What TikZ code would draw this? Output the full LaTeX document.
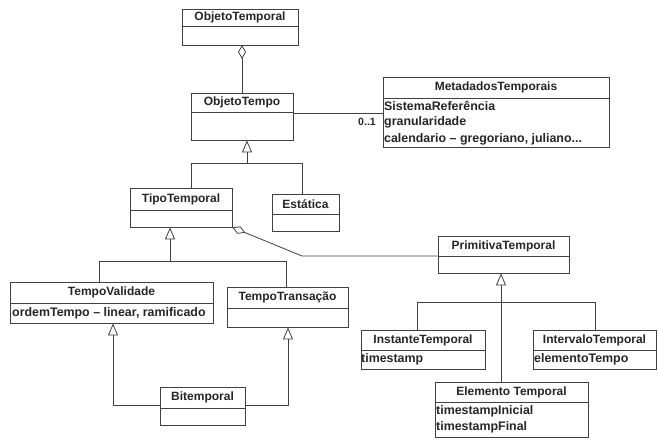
\documentclass[tikz,border=0pt]{standalone}
\usepackage{fontspec}
\setmainfont{Liberation Sans}
\usetikzlibrary{arrows.meta,fit}

\tikzset{
  umlline/.style={draw=black!75, line width=0.8pt},
  classframe/.style={draw=black!75, line width=0.8pt, inner sep=0pt},
  classtitle/.style={font=\fontsize{12}{14}\selectfont\bfseries, inner sep=0pt, text=black!85},
  classattr/.style={font=\fontsize{12.4}{14}\selectfont\bfseries, inner sep=0pt, anchor=west, text=black!85},
  multlabel/.style={font=\fontsize{10.5}{12}\selectfont\bfseries, inner sep=0pt, text=black!85},
  inherit/.style={umlline, -{Triangle[open, length=12pt, width=10pt, line width=0.8pt]}},
  aggr/.style={umlline, {Diamond[open, length=14pt, width=8pt, line width=0.8pt]}-},
}

% \umlclass{name}{left}{top}{right}{header bottom}{bottom}{title}
\newcommand{\umlclass}[7]{%
  \node[classframe, fit={(#2,#3) (#4,#6)}] (#1) {};
  \draw[umlline] (#2,#5) -- (#4,#5);
  \node[classtitle] (#1-title) at ({(#2+#4)/2},{(#3+#5)/2}) {#7};
}

\begin{document}
\begin{tikzpicture}[x=1pt,y=-1pt]
  \useasboundingbox[fill=white] (0,0) rectangle (658,440);

  % classes
  \umlclass{objtemporal}{182}{9}{298}{26}{45}{ObjetoTemporal}
  \umlclass{objtempo}{191}{93}{293}{112}{140}{ObjetoTempo}
  \umlclass{meta}{383}{77}{609}{98}{147}{MetadadosTemporais}
  \node[classattr] (meta-a1) at (384,106) {SistemaReferência};
  \node[classattr] (meta-a2) at (384,122.5) {granularidade};
  \node[classattr] (meta-a3) at (384,139) {calendario – gregoriano, juliano...};

  \umlclass{tipo}{130}{188}{232}{210}{227}{TipoTemporal}
  \umlclass{estatica}{272}{194}{339}{214}{231}{Estática}

  \umlclass{validade}{10}{282}{213}{303}{323}{TempoValidade}
  \node[classattr] (validade-a1) at (12,313) {ordemTempo – linear, ramificado};
  \umlclass{transacao}{227}{287}{348}{308}{327}{TempoTransação}

  \umlclass{primitiva}{438}{236}{569}{256}{273}{PrimitivaTemporal}
  \umlclass{instante}{361}{330}{485}{350}{369}{InstanteTemporal}
  \node[classattr] (instante-a1) at (361,359) {timestamp};
  \umlclass{intervalo}{533}{330}{656}{350}{369}{IntervaloTemporal}
  \node[classattr] (intervalo-a1) at (534,359) {elementoTempo};
  \umlclass{elemento}{435}{382}{588}{402}{437}{Elemento Temporal}
  \node[classattr] (elemento-a1) at (436,411) {timestampInicial};
  \node[classattr] (elemento-a2) at (436,427) {timestampFinal};

  \umlclass{bitemporal}{160}{387}{245}{408}{425}{Bitemporal}

  % aggregation ObjetoTemporal <>-- ObjetoTempo
  \coordinate (agg1) at (242,45);
  \draw[aggr] (agg1) -- (agg1 |- objtempo.north);

  % association ObjetoTempo -- MetadadosTemporais
  \coordinate (assoc) at (383,113);
  \draw[umlline] (assoc -| objtempo.east) -- (assoc);
  \node[multlabel] (mult) at (367,122) {0..1};

  % generalization ObjetoTempo <- TipoTemporal, Estatica
  \coordinate (h1) at (247,163);
  \coordinate (h1l) at (191,163);
  \coordinate (h1r) at (302,163);
  \draw[inherit] (h1) -- (h1 |- objtempo.south);
  \draw[umlline] (h1l |- tipo.north) -- (h1l) -- (h1r) -- (h1r |- estatica.north);

  % generalization TipoTemporal <- TempoValidade, TempoTransacao
  \coordinate (h2) at (170,261);
  \coordinate (h2l) at (99,261);
  \coordinate (h2r) at (286,261);
  \draw[inherit] (h2) -- (h2 |- tipo.south);
  \draw[umlline] (h2l |- validade.north) -- (h2l) -- (h2r) -- (h2r |- transacao.north);

  % aggregation TipoTemporal <>-- PrimitivaTemporal
  \coordinate (k) at (302,256);
  \draw[aggr] (tipo.south east) -- (k) -- (k -| primitiva.west);

  % generalization PrimitivaTemporal <- Instante, Intervalo, Elemento
  \coordinate (h3) at (501,302);
  \coordinate (h3l) at (417,302);
  \coordinate (h3r) at (595,302);
  \draw[inherit] (h3) -- (h3 |- primitiva.south);
  \draw[umlline] (h3l |- instante.north) -- (h3l) -- (h3r) -- (h3r |- intervalo.north);
  \draw[umlline] (h3) -- (h3 |- elemento.north);

  % generalization Bitemporal -> TempoValidade, TempoTransacao
  \coordinate (b1) at (113,405);
  \coordinate (b2) at (288,405);
  \draw[inherit] (b1 -| bitemporal.west) -- (b1) -- (b1 |- validade.south);
  \draw[inherit] (b2 -| bitemporal.east) -- (b2) -- (b2 |- transacao.south);
\end{tikzpicture}
\end{document}
